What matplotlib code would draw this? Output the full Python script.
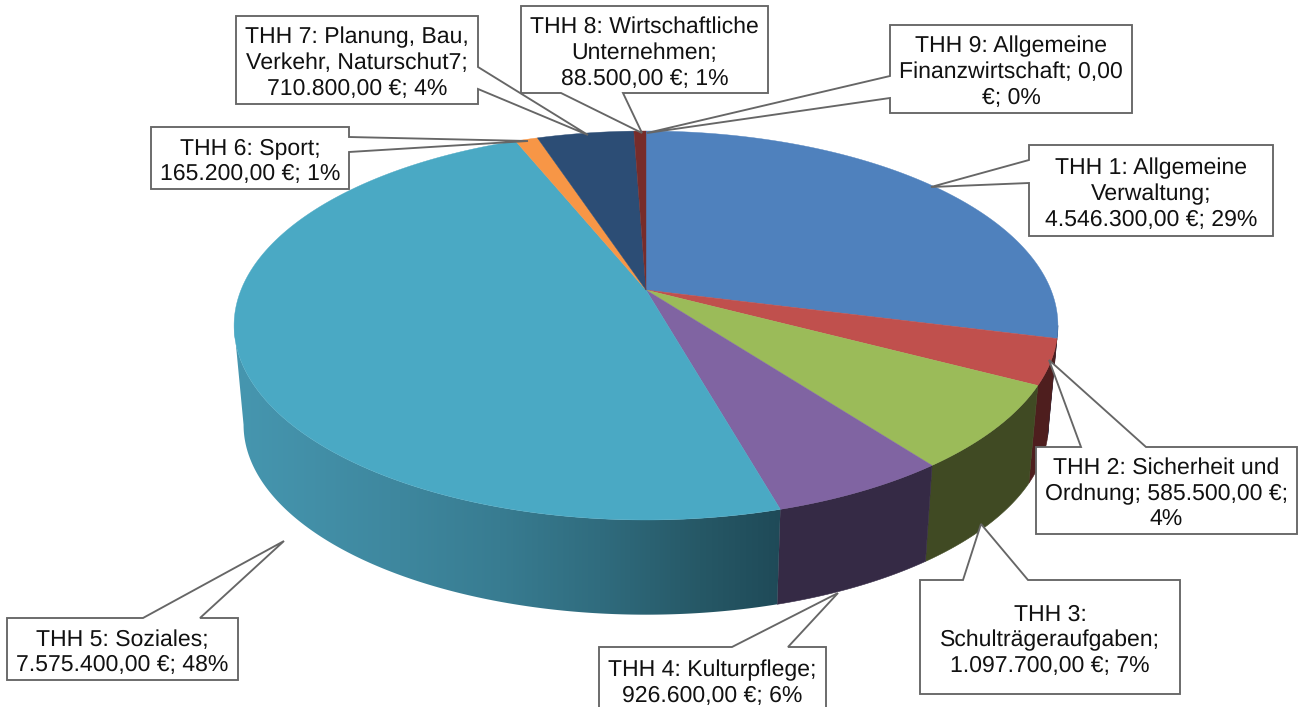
import numpy as np
import matplotlib
matplotlib.use('Agg')
import matplotlib.pyplot as plt
from matplotlib.patches import Polygon

plt.rcParams['font.family'] = ['Liberation Sans', 'DejaVu Sans']
plt.rcParams['text.hinting'] = 'no_hinting'
plt.rcParams['text.hinting_factor'] = 1

# Daten
werte = [4546300.0, 585500.0, 1097700.0, 926600.0, 7575400.0, 165200.0, 710800.0, 88500.0, 0.0]
etiketten = [
    'THH 1: Allgemeine\nVerwaltung;\n4.546.300,00 €; 29%',
    'THH 2: Sicherheit und\nOrdnung; 585.500,00 €;\n4%',
    'THH 3:\nSchulträgeraufgaben;\n1.097.700,00 €; 7%',
    'THH 4: Kulturpflege;\n926.600,00 €; 6%',
    'THH 5: Soziales;\n7.575.400,00 €; 48%',
    'THH 6: Sport;\n165.200,00 €; 1%',
    'THH 7: Planung, Bau,\nVerkehr, Naturschut7;\n710.800,00 €; 4%',
    'THH 8: Wirtschaftliche\nUnternehmen;\n88.500,00 €; 1%',
    'THH 9: Allgemeine\nFinanzwirtschaft; 0,00\n€; 0%',
]
farben = ['#4F81BD', '#C0504D', '#9BBB59', '#8064A2', '#4AA9C4', '#F79646', '#2C4D75', '#772C2A', '#4F81BD']
farben_seite = ['#2C4A70', '#4E1E1E', '#404A23', '#352A45', None, '#8A5020', '#1A2D45', '#451A19', '#2C4A70']

# Verlauf der Seitenfläche von THH 5 (x in Pixel, RGB)
verlauf_x = [240, 400, 500, 600, 700, 780]
verlauf_rgb = [(70, 150, 175), (62, 135, 158), (56, 124, 145), (48, 108, 126), (38, 88, 102), (31, 74, 88)]

# Geometrie der perspektivischen Torte, in Pixeln
CX, CY = 646, 290
R, A, K = 405, 188, 0.1825
TIEFE, SKALA = 100, 0.977

# Beschriftungen: Kasten (links, oben, rechts, unten), Seite der Spitze, Fuss1, Spitze, Fuss2
kaesten = [
    ((1029, 145, 1273, 236), 'l', 160, (931, 187), 183),
    ((1036, 447, 1297, 534), 't', 1081, (1049, 360), 1146),
    ((920, 580, 1180, 694), 't', 963, (981, 524), 1028),
    ((599, 647, 826, 713), 't', 732, (838, 593), 788),
    ((7, 618, 238, 680), 't', 143, (284, 541), 200),
    ((151, 127, 349, 189), 'r', 137, (528, 141), 152),
    ((236, 16, 478, 104), 'r', 67, (588, 135), 89),
    ((521, 6, 768, 93), 'b', 561, (642, 133), 623),
    ((890, 25, 1132, 113), 'l', 76, (647, 133), 98),
]


def projizieren(phi, skala=1.0, tiefe=0.0):
    """Winkel in Grad, im Uhrzeigersinn ab 12 Uhr, auf Bildpunkte abbilden."""
    p = np.radians(phi)
    n = 1 + K * np.cos(p)
    x = CX + R * skala * np.sin(p) / n
    y = CY + tiefe - A * skala * np.cos(p) / n
    return x, y


def kasten_umriss(box, seite, f1, spitze, f2):
    x0, y0, x1, y1 = box
    if seite == 't':
        return [(x0, y0), (f1, y0), spitze, (f2, y0), (x1, y0), (x1, y1), (x0, y1)]
    if seite == 'b':
        return [(x0, y0), (x1, y0), (x1, y1), (f2, y1), spitze, (f1, y1), (x0, y1)]
    if seite == 'r':
        return [(x0, y0), (x1, y0), (x1, f1), spitze, (x1, f2), (x1, y1), (x0, y1)]
    return [(x0, y0), (x1, y0), (x1, y1), (x0, y1), (x0, f2), spitze, (x0, f1)]


fig = plt.figure(figsize=(12.98, 7.07), dpi=100)
ax = fig.add_axes([0, 0, 1, 1])

grenzen = 360 * np.concatenate([[0], np.cumsum(werte)]) / np.sum(werte)
sichtbar_von = np.degrees(np.arccos(-K))
sichtbar_bis = 360 - sichtbar_von

# Seitenflächen
for i in range(len(werte)):
    a = max(grenzen[i], sichtbar_von)
    b = min(grenzen[i + 1], sichtbar_bis)
    if b <= a:
        continue
    phi = np.linspace(a, b, int((b - a) * 2) + 2)
    xo, yo = projizieren(phi)
    xu, yu = projizieren(phi, SKALA, TIEFE)
    ecken = list(zip(xo, yo)) + list(zip(xu[::-1], yu[::-1]))
    if farben_seite[i] is not None:
        ax.add_patch(Polygon(ecken, closed=True, facecolor=farben_seite[i], edgecolor=farben_seite[i],
                             lw=0.4, zorder=1))
    else:
        # Verlauf als Bild, auf die Seitenfläche zugeschnitten
        xs = np.arange(230, 790)
        bild = np.stack([np.interp(xs, verlauf_x, [c[k] for c in verlauf_rgb]) / 255 for k in range(3)], axis=-1)
        umriss = Polygon(ecken, closed=True, facecolor='none', edgecolor='none', transform=ax.transData)
        ax.add_patch(umriss)
        im = ax.imshow(bild[np.newaxis, :, :], extent=(230, 790, 640, 300), aspect='auto',
                       interpolation='bilinear', zorder=1)
        im.set_clip_path(umriss)

ax.set_xlim(0, 1298)
ax.set_ylim(707, 0)
ax.axis('off')

# Deckfläche
for i in range(len(werte)):
    if werte[i] == 0:
        continue
    phi = np.linspace(grenzen[i], grenzen[i + 1], int(grenzen[i + 1] - grenzen[i]) * 2 + 3)
    x, y = projizieren(phi)
    ecken = [(CX, CY)] + list(zip(x, y))
    ax.add_patch(Polygon(ecken, closed=True, facecolor=farben[i], edgecolor=farben[i], lw=0.3, zorder=2))

# Beschriftungen
for text, (box, seite, f1, spitze, f2) in zip(etiketten, kaesten):
    ax.add_patch(Polygon(kasten_umriss(box, seite, f1, spitze, f2), closed=True, facecolor='white',
                         edgecolor='#666666', lw=1.35, joinstyle='miter', zorder=3))
    ax.text((box[0] + box[2]) / 2, (box[1] + box[3]) / 2 + 3.5, text, ha='center', va='center',
            fontsize=16.6, linespacing=1.26, color='#111111', zorder=4)

fig.savefig('out.png', dpi=100)
